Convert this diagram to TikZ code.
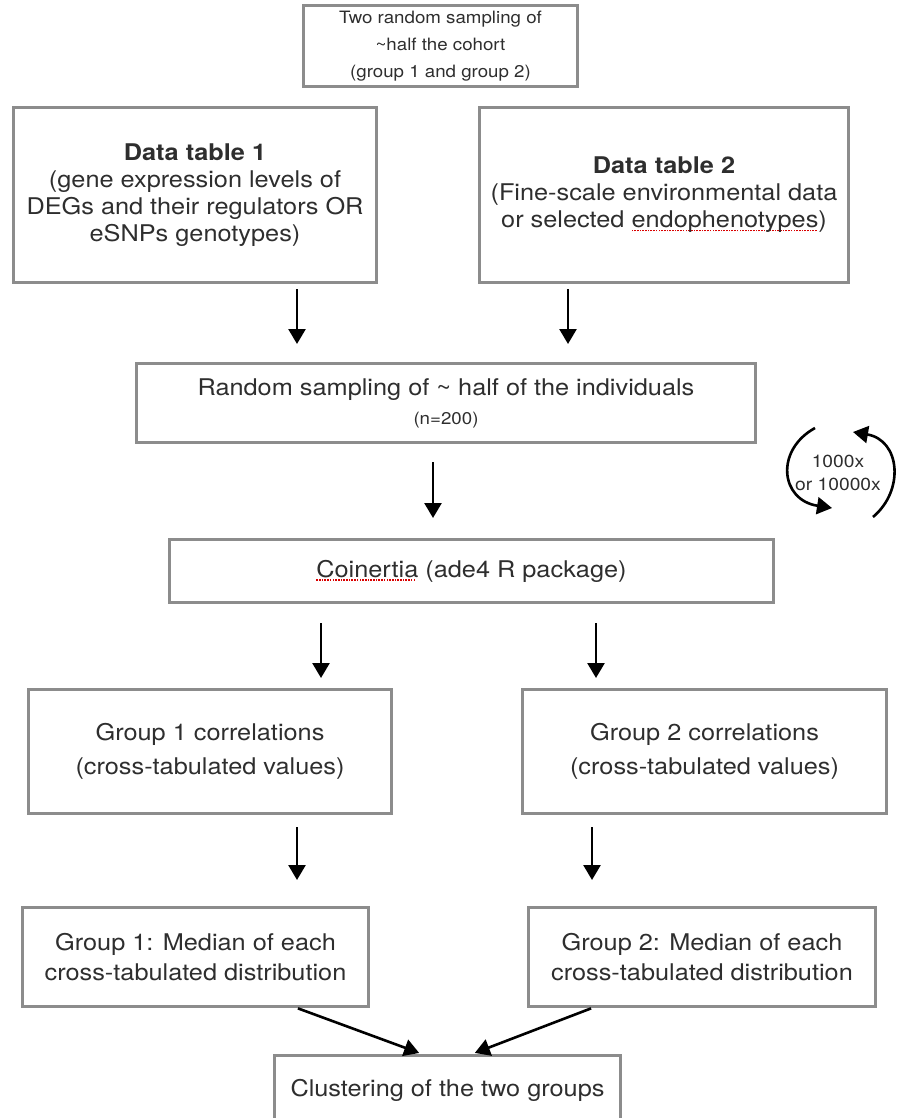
\documentclass[tikz,border=0pt]{standalone}
\usepackage{fontspec}
\setmainfont[FakeStretch=1.1]{TeX Gyre Heros}
\usepackage{xcolor}
\usetikzlibrary{arrows.meta}
\definecolor{boxgray}{HTML}{8C8C8C}
\definecolor{txtgray}{HTML}{2E2E2E}
\newcommand\squig[1]{\setbox0\hbox{#1}\rlap{\lower3.5pt\hbox to\wd0{\color{red!85!black}\leaders\hbox{\rule{1.6pt}{1.6pt}\kern1.1pt}\hfill}}\box0\relax}

\begin{document}
\begin{tikzpicture}[->,>={Triangle[length=15pt,width=17pt]},x=1pt,y=-1pt,line width=2.6pt]
    \tikzstyle{box}=[draw=boxgray, line width=3pt, rectangle, align=center, inner sep=0pt, text=txtgray, font=\fontsize{23}{27}\selectfont]
    \useasboundingbox (0,0) rectangle (906,1118);
    \clip (0,0) rectangle (906,1118);
    \node[box, minimum width=274, minimum height=81, font=\fontsize{17}{27}\selectfont] (top) at (440.5,46) {Two random sampling of\\\textasciitilde half the cohort\\(group 1 and group 2)};
    \node[box, minimum width=363, minimum height=175] (dt1) at (195,195) {\textbf{Data table 1}\\(gene expression levels of\\DEGs and their regulators OR\\eSNPs genotypes)};
    \node[box, minimum width=369, minimum height=175] (dt2) at (664,195) {\textbf{Data table 2}\\(Fine-scale environmental data\\or selected \squig{endophenotypes})};
    \node[box, minimum width=619, minimum height=79] (rs) at (446,403) {Random sampling of \textasciitilde\ half of the individuals\\[2pt]\fontsize{17}{19}\selectfont(n=200)};
    \node[box, minimum width=604, minimum height=63] (coin) at (471.5,571) {\squig{Coinertia} (ade4 R package)};
    \node[box, minimum width=363, minimum height=124, font=\fontsize{23}{34}\selectfont] (g1) at (210,751.5) {Group 1 correlations\\(cross-tabulated values)};
    \node[box, minimum width=364, minimum height=124, font=\fontsize{23}{34}\selectfont] (g2) at (704.5,751.5) {Group 2 correlations\\(cross-tabulated values)};
    \node[box, minimum width=346, minimum height=99, font=\fontsize{23}{30}\selectfont] (m1) at (195.5,957) {Group 1: Median of each\\cross-tabulated distribution};
    \node[box, minimum width=347, minimum height=99, font=\fontsize{23}{30}\selectfont] (m2) at (702,957) {Group 2: Median of each\\cross-tabulated distribution};
    \node[box, minimum width=346, minimum height=69] (clust) at (447.5,1090) {Clustering of the two groups};
    \node[text=txtgray, align=center, inner sep=0pt, font=\fontsize{17.5}{23}\selectfont] (loop) at (838,473) {1000x\\or 10000x};
    \coordinate (upL) at (297,0);
    \coordinate (upR) at (568,0);
    \coordinate (upM) at (433,0);
    \coordinate (midL) at (321,0);
    \coordinate (midR) at (596,0);
    \coordinate (lowL) at (297,0);
    \coordinate (lowR) at (592,0);
    \coordinate (inL) at (422,0);
    \coordinate (inR) at (472,0);
    \draw[shorten <=5pt, shorten >=18pt] (dt1.south -| upL) -- (rs.north -| upL);
    \draw[shorten <=5pt, shorten >=18pt] (dt2.south -| upR) -- (rs.north -| upR);
    \draw[shorten <=18pt, shorten >=20pt] (rs.south -| upM) -- (coin.north -| upM);
    \draw[shorten <=19pt, shorten >=10pt] (coin.south -| midL) -- (g1.north -| midL);
    \draw[shorten <=19pt, shorten >=10pt] (coin.south -| midR) -- (g2.north -| midR);
    \draw[shorten <=12pt, shorten >=26pt] (g1.south -| lowL) -- (m1.north -| lowL);
    \draw[shorten <=12pt, shorten >=26pt] (g2.south -| lowR) -- (m2.north -| lowR);
    \draw[shorten <=1pt, shorten >=3pt] (m1.south -| lowL) -- (clust.north -| inL);
    \draw[shorten <=1pt, shorten >=3pt] (m2.south -| lowR) -- (clust.north -| inR);
    \draw[shift={(loop)}] (-23,-45) .. controls (-63,-23) and (-58,27) .. (-6,35);
    \draw[shift={(loop)}] (35,44) .. controls (67,17) and (62,-33) .. (15,-41);
\end{tikzpicture}
\end{document}
